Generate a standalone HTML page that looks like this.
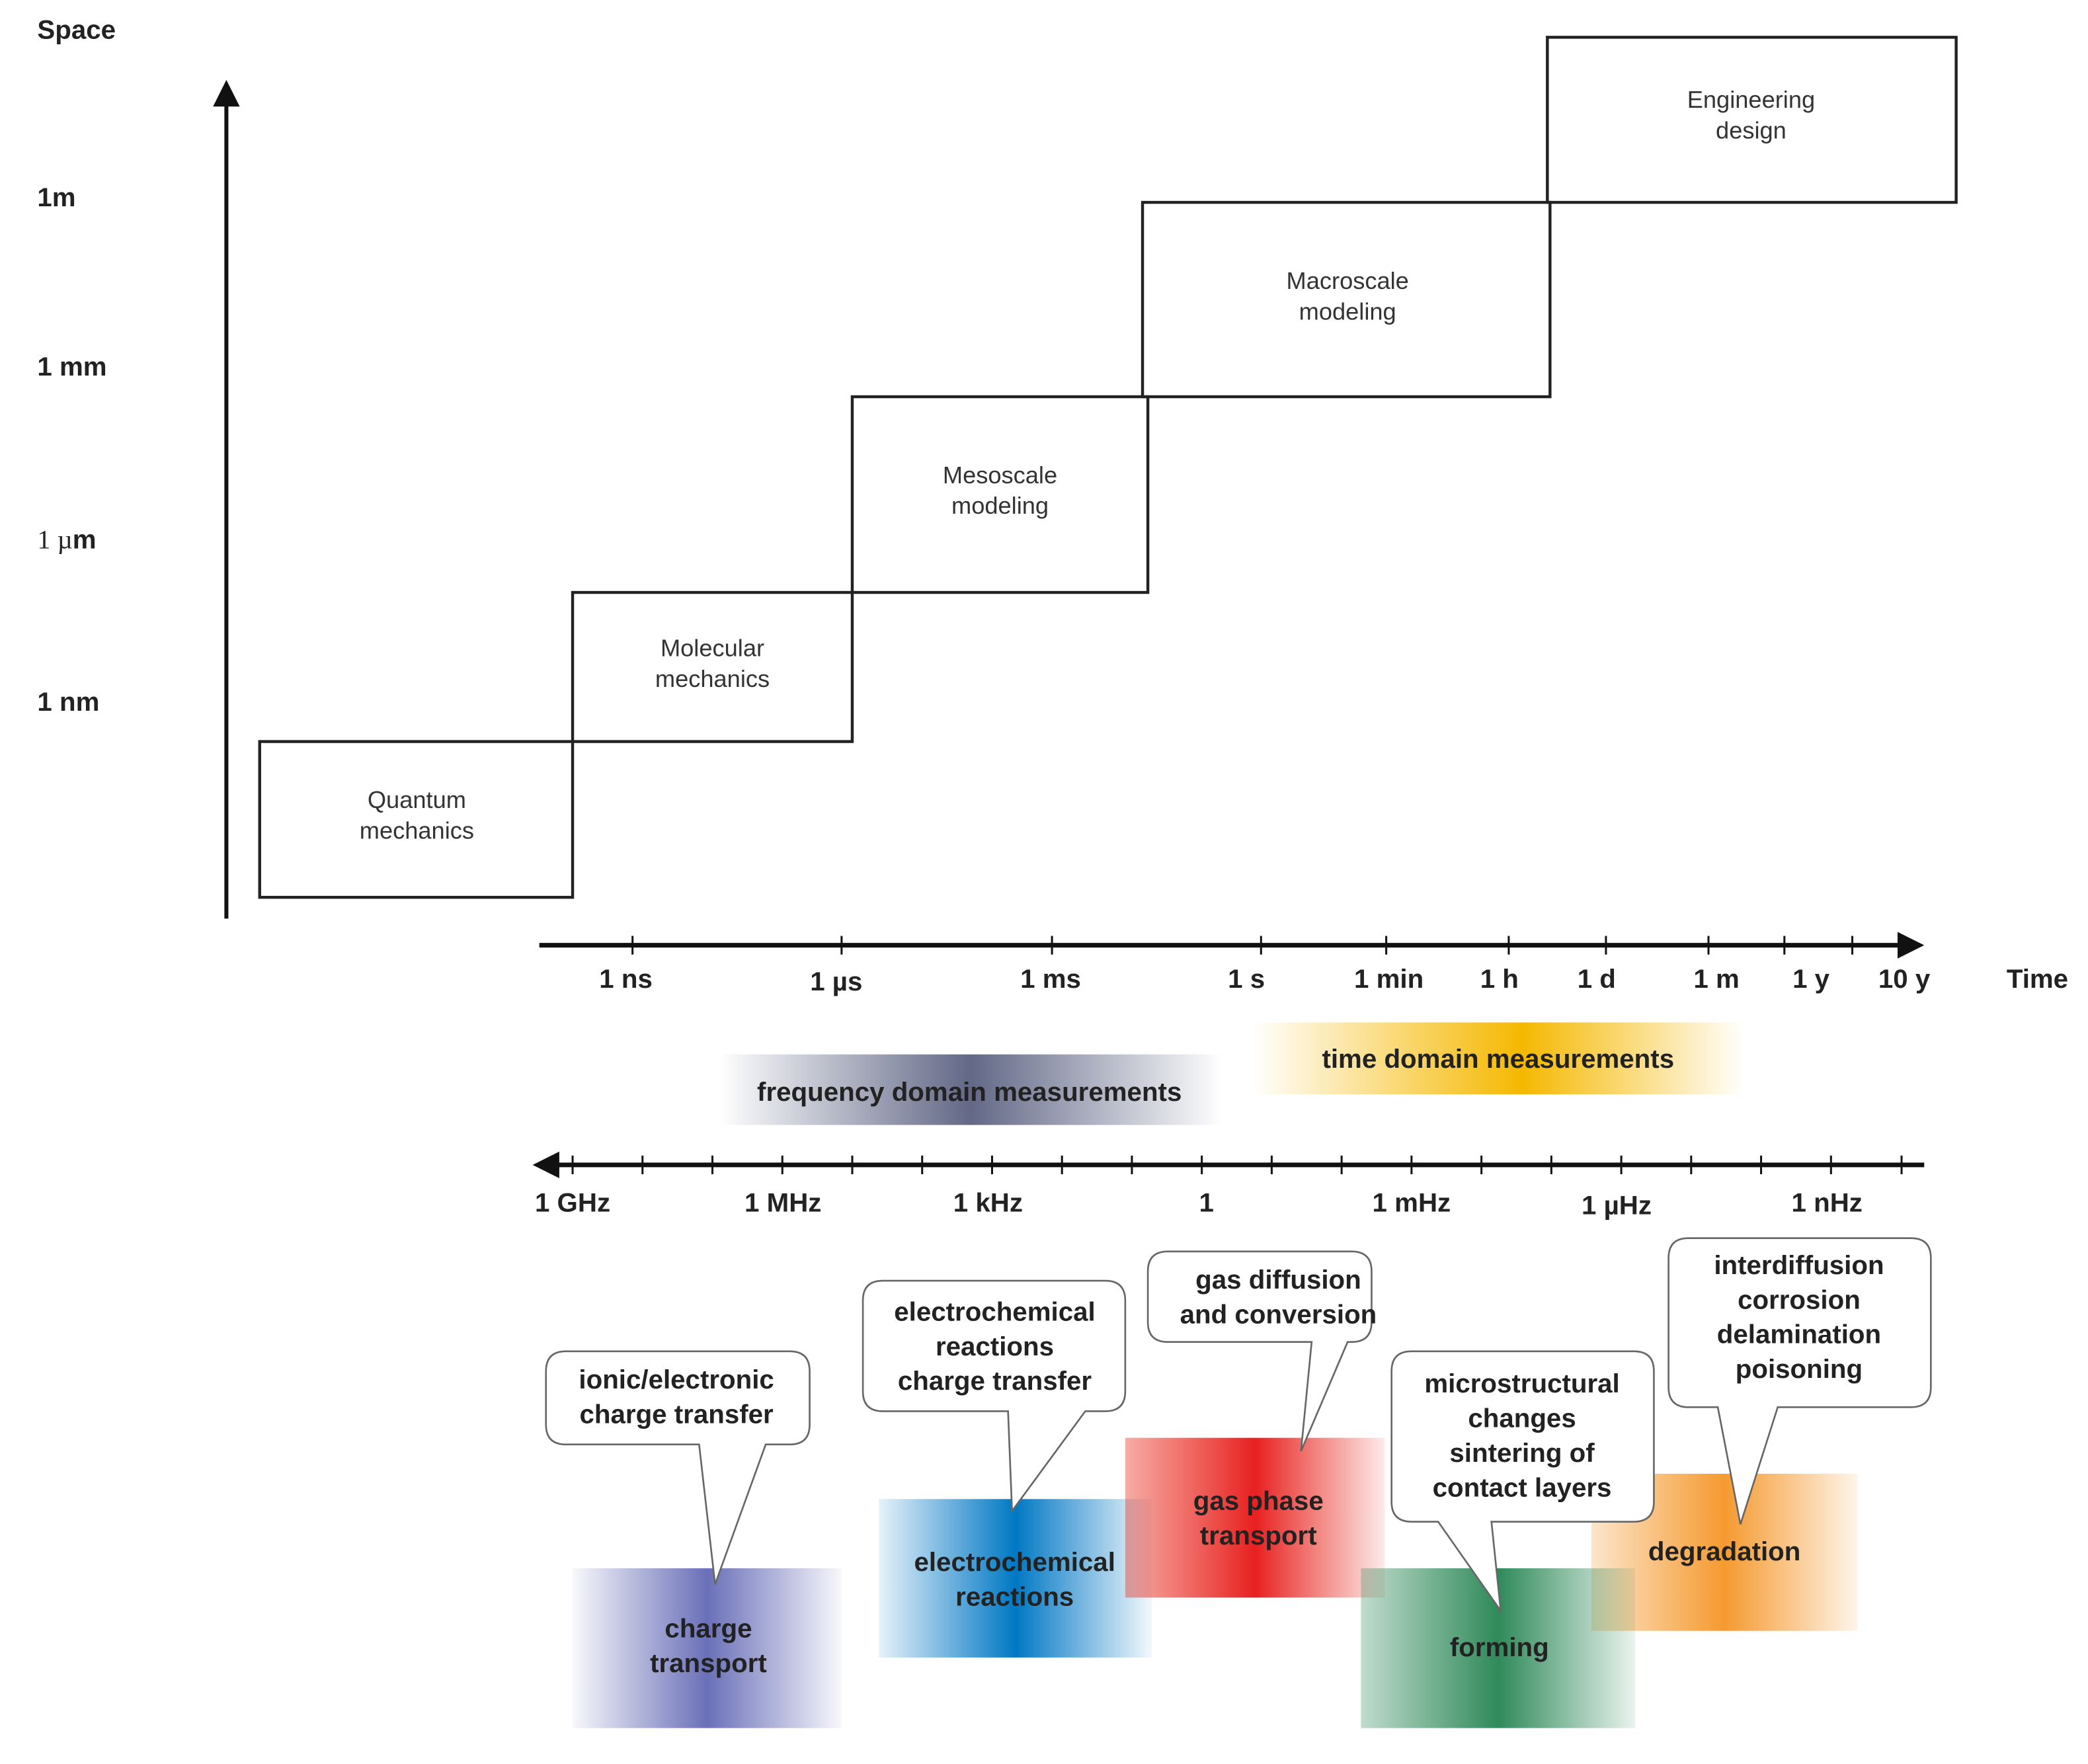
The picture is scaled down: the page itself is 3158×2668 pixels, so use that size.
<!DOCTYPE html>
<html><head><meta charset="utf-8"><style>html,body{margin:0;padding:0;background:#fff}svg{display:block}</style></head>
<body>
<svg width="3158" height="2668" viewBox="0 0 1568 1325" preserveAspectRatio="none" xmlns="http://www.w3.org/2000/svg" font-family="Liberation Sans, sans-serif">
<defs>
<linearGradient id="gFreq" x1="0" x2="1" y1="0" y2="0"><stop offset="0" stop-color="#5a6080" stop-opacity="0"/><stop offset="0.5" stop-color="#5a6080" stop-opacity="0.95"/><stop offset="1" stop-color="#5a6080" stop-opacity="0"/></linearGradient>
<linearGradient id="gTime" x1="0" x2="1"><stop offset="0" stop-color="#f5b800" stop-opacity="0"/><stop offset="0.55" stop-color="#f5b800" stop-opacity="1"/><stop offset="1" stop-color="#f5b800" stop-opacity="0"/></linearGradient>
<linearGradient id="gPur" x1="0" x2="1"><stop offset="0" stop-color="#6a70b8" stop-opacity="0.05"/><stop offset="0.5" stop-color="#6a70b8" stop-opacity="1"/><stop offset="1" stop-color="#6a70b8" stop-opacity="0.05"/></linearGradient>
<linearGradient id="gBlue" x1="0" x2="1"><stop offset="0" stop-color="#0078c4" stop-opacity="0.1"/><stop offset="0.5" stop-color="#0078c4" stop-opacity="1"/><stop offset="1" stop-color="#0078c4" stop-opacity="0.05"/></linearGradient>
<linearGradient id="gRed" x1="0" x2="1"><stop offset="0" stop-color="#e83020" stop-opacity="0.4"/><stop offset="0.5" stop-color="#e82020" stop-opacity="1"/><stop offset="1" stop-color="#e83020" stop-opacity="0.1"/></linearGradient>
<linearGradient id="gGreen" x1="0" x2="1"><stop offset="0" stop-color="#2f8a5a" stop-opacity="0.3"/><stop offset="0.5" stop-color="#2f8a5a" stop-opacity="1"/><stop offset="1" stop-color="#2f8a5a" stop-opacity="0.1"/></linearGradient>
<linearGradient id="gOr" x1="0" x2="1"><stop offset="0" stop-color="#f59a30" stop-opacity="0.25"/><stop offset="0.5" stop-color="#f59a30" stop-opacity="1"/><stop offset="1" stop-color="#f59a30" stop-opacity="0.1"/></linearGradient>
</defs>

<g font-weight="bold" font-size="20" fill="#222">
<text x="28" y="29">Space</text>
<text x="28" y="155">1m</text>
<text x="28" y="282">1 mm</text>
<text x="28" y="412"><tspan font-family="Liberation Serif, serif" font-weight="normal">1 µ</tspan>m</text>
<text x="28" y="534">1 nm</text>
</g>
<line x1="170" y1="690" x2="170" y2="75" stroke="#111" stroke-width="3"/>
<polygon points="170,60 160,80 180,80" fill="#111"/>

<g fill="none" stroke="#222" stroke-width="2.2">
<rect x="195" y="557" width="235" height="117"/>
<rect x="430" y="445" width="210" height="112"/>
<rect x="640" y="298" width="222" height="147"/>
<rect x="858" y="152" width="306" height="146"/>
<rect x="1162" y="28" width="307" height="124"/>
</g>
<g font-size="18" fill="#333" text-anchor="middle">
<text x="313" y="607">Quantum</text><text x="313" y="630">mechanics</text>
<text x="535" y="493">Molecular</text><text x="535" y="516">mechanics</text>
<text x="751" y="363">Mesoscale</text><text x="751" y="386">modeling</text>
<text x="1012" y="217">Macroscale</text><text x="1012" y="240">modeling</text>
<text x="1315" y="81">Engineering</text><text x="1315" y="104">design</text>
</g>

<line x1="405" y1="710" x2="1430" y2="710" stroke="#111" stroke-width="3.5"/>
<polygon points="1445,710 1425,700 1425,720" fill="#111"/>
<g stroke="#111" stroke-width="1.5">
<line x1="475" y1="703" x2="475" y2="717"/><line x1="632" y1="703" x2="632" y2="717"/><line x1="790" y1="703" x2="790" y2="717"/><line x1="947" y1="703" x2="947" y2="717"/><line x1="1041" y1="703" x2="1041" y2="717"/><line x1="1133" y1="703" x2="1133" y2="717"/><line x1="1206" y1="703" x2="1206" y2="717"/><line x1="1283" y1="703" x2="1283" y2="717"/><line x1="1340" y1="703" x2="1340" y2="717"/><line x1="1391" y1="703" x2="1391" y2="717"/>
</g>
<g font-weight="bold" font-size="20" fill="#222" text-anchor="middle">
<text x="470" y="742">1 ns</text><text x="628" y="744">1 µs</text><text x="789" y="742">1 ms</text><text x="936" y="742">1 s</text><text x="1043" y="742">1 min</text><text x="1126" y="742">1 h</text><text x="1199" y="742">1 d</text><text x="1289" y="742">1 m</text><text x="1360" y="742">1 y</text><text x="1430" y="742">10 y</text><text x="1530" y="742">Time</text>
</g>

<rect x="940" y="768" width="370" height="54" fill="url(#gTime)"/>
<rect x="540" y="792" width="378" height="53" fill="url(#gFreq)"/>
<g font-weight="bold" font-size="20" fill="#222" text-anchor="middle">
<text x="1125" y="802">time domain measurements</text>
<text x="728" y="827">frequency domain measurements</text>
</g>

<line x1="415" y1="875" x2="1445" y2="875" stroke="#111" stroke-width="3.5"/>
<polygon points="400,875 420,865 420,885" fill="#111"/>
<g stroke="#111" stroke-width="1.5">
<line x1="430" y1="868" x2="430" y2="882"/><line x1="482.5" y1="868" x2="482.5" y2="882"/><line x1="535" y1="868" x2="535" y2="882"/><line x1="587.5" y1="868" x2="587.5" y2="882"/><line x1="640" y1="868" x2="640" y2="882"/><line x1="692.5" y1="868" x2="692.5" y2="882"/><line x1="745" y1="868" x2="745" y2="882"/><line x1="797.5" y1="868" x2="797.5" y2="882"/><line x1="850" y1="868" x2="850" y2="882"/><line x1="902.5" y1="868" x2="902.5" y2="882"/><line x1="955" y1="868" x2="955" y2="882"/><line x1="1007.5" y1="868" x2="1007.5" y2="882"/><line x1="1060" y1="868" x2="1060" y2="882"/><line x1="1112.5" y1="868" x2="1112.5" y2="882"/><line x1="1165" y1="868" x2="1165" y2="882"/><line x1="1217.5" y1="868" x2="1217.5" y2="882"/><line x1="1270" y1="868" x2="1270" y2="882"/><line x1="1322.5" y1="868" x2="1322.5" y2="882"/><line x1="1375" y1="868" x2="1375" y2="882"/><line x1="1428" y1="868" x2="1428" y2="882"/>
</g>
<g font-weight="bold" font-size="20" fill="#222" text-anchor="middle">
<text x="430" y="910">1 GHz</text><text x="588" y="910">1 MHz</text><text x="742" y="910">1 kHz</text><text x="906" y="910">1</text><text x="1060" y="910">1 mHz</text><text x="1214" y="912">1 µHz</text><text x="1372" y="910">1 nHz</text>
</g>

<rect x="430" y="1178" width="202" height="120" fill="url(#gPur)"/>
<rect x="660" y="1126" width="205" height="119" fill="url(#gBlue)"/>
<rect x="845" y="1080" width="195" height="120" fill="url(#gRed)"/>
<rect x="1195" y="1107" width="200" height="118" fill="url(#gOr)"/>
<rect x="1022" y="1178" width="206" height="120" fill="url(#gGreen)"/>

<g fill="#fff" stroke="#666" stroke-width="1.3">
<path d="M425,1015 H593 Q608,1015 608,1030 V1070 Q608,1085 593,1085 H575 L537,1190 L525,1085 H425 Q410,1085 410,1070 V1030 Q410,1015 425,1015 Z"/>
<path d="M663,962 H830 Q845,962 845,977 V1045 Q845,1060 830,1060 H815 L760,1135 L757,1060 H663 Q648,1060 648,1045 V977 Q648,962 663,962 Z"/>
<path d="M877,940 H1015 Q1030,940 1030,955 V993 Q1030,1008 1015,1008 H1012 L977,1090 L985,1008 H877 Q862,1008 862,993 V955 Q862,940 877,940 Z"/>
<path d="M1060,1015 H1227 Q1242,1015 1242,1030 V1128 Q1242,1143 1227,1143 H1120 L1127,1210 L1080,1143 H1060 Q1045,1143 1045,1128 V1030 Q1045,1015 1060,1015 Z"/>
<path d="M1268,930 H1435 Q1450,930 1450,945 V1042 Q1450,1057 1435,1057 H1335 L1307,1145 L1290,1057 H1268 Q1253,1057 1253,1042 V945 Q1253,930 1268,930 Z"/>
</g>

<g font-weight="bold" font-size="20" fill="#222" text-anchor="middle">
<text x="508" y="1043">ionic/electronic</text><text x="508" y="1069">charge transfer</text>
<text x="747" y="992">electrochemical</text><text x="747" y="1018">reactions</text><text x="747" y="1044">charge transfer</text>
<text x="960" y="968">gas diffusion</text><text x="960" y="994">and conversion</text>
<text x="1143" y="1046">microstructural</text><text x="1143" y="1072">changes</text><text x="1143" y="1098">sintering of</text><text x="1143" y="1124">contact layers</text>
<text x="1351" y="957">interdiffusion</text><text x="1351" y="983">corrosion</text><text x="1351" y="1009">delamination</text><text x="1351" y="1035">poisoning</text>
<text x="532" y="1230">charge</text><text x="532" y="1256">transport</text>
<text x="762" y="1180">electrochemical</text><text x="762" y="1206">reactions</text>
<text x="945" y="1134">gas phase</text><text x="945" y="1160">transport</text>
<text x="1126" y="1244">forming</text>
<text x="1295" y="1172">degradation</text>
</g>
</svg>
</body></html>
